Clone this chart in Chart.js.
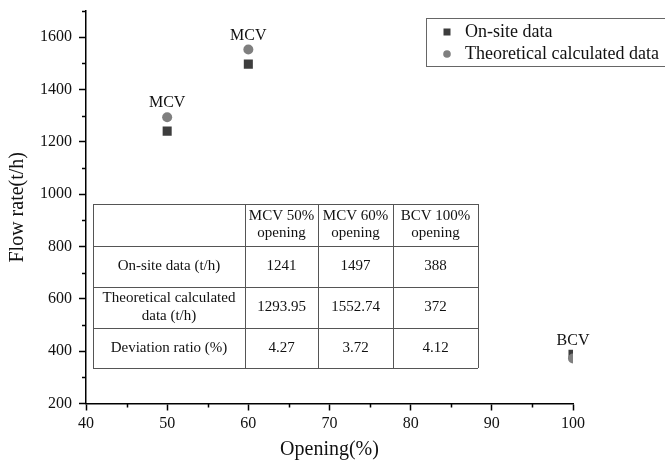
<!DOCTYPE html>
<html>
<head>
<meta charset="utf-8">
<script src="https://cdn.jsdelivr.net/npm/chart.js@4/dist/chart.umd.min.js"></script>
<style>
  html, body { margin: 0; padding: 0; background: #ffffff; }
  #wrap { width: 665px; height: 465px; }
</style>
</head>
<body>
<div id="wrap"><canvas id="c" width="665" height="465"></canvas></div>
<script>
// ---- data ----
const openings = [50, 60, 100];
const onSiteData = [1241, 1497, 388];
const theoreticalData = [1293.95, 1552.74, 372];
const pointLabels = ['MCV', 'MCV', 'BCV'];
const seriesNames = ['On-site data', 'Theoretical calculated data'];
const tableColHeaders = [['MCV 50%', 'opening'], ['MCV 60%', 'opening'], ['BCV 100%', 'opening']];
const tableRowHeaders = [['On-site data (t/h)'], ['Theoretical calculated', 'data (t/h)'], ['Deviation ratio (%)']];
const tableOnSite = ['1241', '1497', '388'];
const tableTheoretical = ['1293.95', '1552.74', '372'];
const tableDeviation = ['4.27', '3.72', '4.12'];

const SERIF = '"Liberation Serif", "Times New Roman", serif';

const toPoints = (xs, ys) => xs.map((x, i) => ({ x: x, y: ys[i] }));

// minor ticks, point labels, legend, table
const extrasPlugin = {
  id: 'extras',
  afterDraw(chart) {
    const ctx = chart.ctx;
    const xs = chart.scales.x, ys = chart.scales.y;
    ctx.save();
    // minor ticks
    ctx.strokeStyle = '#000';
    ctx.lineWidth = 1.5;
    ctx.beginPath();
    for (let v = 45; v < 100; v += 10) {
      const px = Math.round(xs.getPixelForValue(v)) + 0.5;
      ctx.moveTo(px, ys.bottom);
      ctx.lineTo(px, ys.bottom + 4);
    }
    for (let v = 300; v <= 1700; v += 200) {
      const py = Math.round(ys.getPixelForValue(v)) + 0.5;
      ctx.moveTo(xs.left, py);
      ctx.lineTo(xs.left - 4, py);
    }
    ctx.stroke();

    // point labels
    ctx.fillStyle = '#111';
    ctx.font = '16px ' + SERIF;
    ctx.textAlign = 'center';
    ctx.textBaseline = 'middle';
    pointLabels.forEach((lab, i) => {
      const top = Math.max(onSiteData[i], theoreticalData[i]);
      const px = xs.getPixelForValue(openings[i]);
      const py = ys.getPixelForValue(top) - 14;
      ctx.fillText(lab, px, py);
    });

    // legend
    const ds = chart.data.datasets;
    ctx.strokeStyle = '#666';
    ctx.lineWidth = 1;
    ctx.strokeRect(426.5, 18.5, 250, 48);
    ctx.font = '18px ' + SERIF;
    ctx.textAlign = 'left';
    ctx.fillStyle = ds[0].backgroundColor;
    ctx.fillRect(443.5, 28.5, 7, 7);
    ctx.fillStyle = ds[1].backgroundColor;
    ctx.beginPath();
    ctx.arc(447, 54, 3.8, 0, Math.PI * 2);
    ctx.fill();
    ctx.fillStyle = '#111';
    ctx.fillText(seriesNames[0], 465, 32);
    ctx.fillText(seriesNames[1], 465, 54);

    // table
    const cols = [93, 245, 318, 393, 478];
    const rows = [204, 246, 287, 328, 368];
    ctx.strokeStyle = '#555';
    ctx.lineWidth = 1;
    ctx.beginPath();
    rows.forEach(r => { ctx.moveTo(cols[0], r + 0.5); ctx.lineTo(cols[4], r + 0.5); });
    cols.forEach(c => { ctx.moveTo(c + 0.5, rows[0]); ctx.lineTo(c + 0.5, rows[4]); });
    ctx.stroke();
    ctx.fillStyle = '#111';
    ctx.font = '15px ' + SERIF;
    ctx.textAlign = 'center';
    const cellText = (lines, c, r, gap) => {
      const cx = (cols[c] + cols[c + 1]) / 2;
      const cy = (rows[r] + rows[r + 1]) / 2;
      const n = lines.length;
      lines.forEach((t, k) => ctx.fillText(t, cx, cy + (k - (n - 1) / 2) * gap));
    };
    tableColHeaders.forEach((h, i) => cellText(h, i + 1, 0, 17));
    tableRowHeaders.forEach((h, j) => cellText(h, 0, j + 1, 18));
    [tableOnSite, tableTheoretical, tableDeviation].forEach((arr, j) => {
      arr.forEach((t, i) => cellText([t], i + 1, j + 1, 18));
    });
    ctx.restore();
  }
};

new Chart(document.getElementById('c'), {
  type: 'scatter',
  data: {
    datasets: [
      {
        label: seriesNames[0],
        data: toPoints(openings, onSiteData),
        pointStyle: 'rect',
        pointRadius: 6.4,
        backgroundColor: '#3d3d3d',
        borderColor: '#3d3d3d',
        borderWidth: 0,
        order: 1
      },
      {
        label: seriesNames[1],
        data: toPoints(openings, theoreticalData),
        pointStyle: 'circle',
        pointRadius: 5,
        backgroundColor: '#7f7f7f',
        borderColor: '#7f7f7f',
        borderWidth: 0,
        order: 0
      }
    ]
  },
  options: {
    responsive: false,
    animation: false,
    devicePixelRatio: 1,
    layout: { padding: { top: 11, right: 92, left: 0, bottom: 0 } },
    plugins: { legend: { display: false }, tooltip: { enabled: false } },
    scales: {
      x: {
        type: 'linear',
        min: 40, max: 100,
        afterFit(s) { s.height = 61.5; s.paddingLeft = 0; s.paddingRight = 0; },
        border: { display: true, color: '#000', width: 1.5 },
        grid: { display: true, drawOnChartArea: false, drawTicks: true, tickLength: 7, color: '#000', tickWidth: 1.5 },
        ticks: { stepSize: 10, color: '#111', padding: 4, font: { family: SERIF, size: 16 }, maxRotation: 0, callback: v => String(v) },
        title: { display: true, text: 'Opening(%)', color: '#111', font: { family: SERIF, size: 20 }, padding: { top: 0, bottom: 3 } }
      },
      y: {
        type: 'linear',
        min: 200, max: 1700,
        afterFit(s) { s.width = 86; s.paddingTop = 0; s.paddingBottom = 0; },
        border: { display: true, color: '#000', width: 1.5 },
        grid: { display: true, drawOnChartArea: false, drawTicks: true, tickLength: 7, color: '#000', tickWidth: 1.5 },
        ticks: { stepSize: 200, includeBounds: false, color: '#111', padding: 7, font: { family: SERIF, size: 16 }, callback: v => String(v) },
        title: { display: true, text: 'Flow rate(t/h)', color: '#111', font: { family: SERIF, size: 20 }, padding: { top: 6, bottom: 0 } }
      }
    }
  },
  plugins: [extrasPlugin]
});
</script>
</body>
</html>
